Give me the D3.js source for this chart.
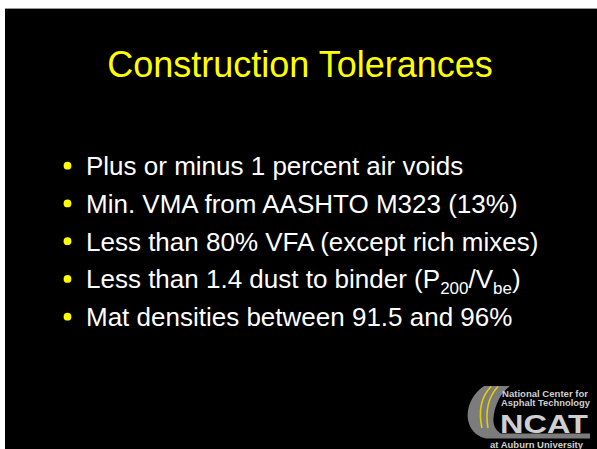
<!DOCTYPE html>
<html>
<head>
<meta charset="utf-8">
<script src="https://cdn.jsdelivr.net/npm/d3@7"></script>
<style>
  html, body { margin: 0; padding: 0; background: #ffffff; }
  svg { display: block; }
</style>
</head>
<body>
<div id="chart"></div>
<script>
// ---- content ----
const title = "Construction Tolerances";
const bulletIds = [0, 1, 2, 3, 4];
// each bullet is a list of [text, kind] segments; kind "n" normal, "s" subscript
const bullet0 = [["Plus or minus 1 percent air voids", "n"]];
const bullet1 = [["Min. VMA from AASHTO M323 (13%)", "n"]];
const bullet2 = [["Less than 80% VFA (except rich mixes)", "n"]];
const bullet3 = [["Less than 1.4 dust to binder (P", "n"], ["200", "s"], ["/V", "n"], ["be", "s"], [")", "n"]];
const bullet4 = [["Mat densities between 91.5 and 96%", "n"]];
const bullets = [bullet0, bullet1, bullet2, bullet3, bullet4];
const logoLines = ["National Center for", "Asphalt Technology", "NCAT", "at Auburn University"];

// ---- drawing ----
const W = 597, H = 449;
const svg = d3.select("#chart").append("svg").attr("width", W).attr("height", H);

svg.append("rect").attr("x", 0).attr("y", 0).attr("width", W).attr("height", H).attr("fill", "#ffffff");
svg.append("rect").attr("x", 5).attr("y", 8).attr("width", W - 5).attr("height", 1).attr("fill", "#9a9a9a");
svg.append("rect").attr("x", 5).attr("y", 9).attr("width", W - 5).attr("height", H - 9).attr("fill", "#000000");

const font = "'Liberation Sans', Arial, Helvetica, sans-serif";

svg.append("text")
  .attr("x", 300).attr("y", 77)
  .attr("text-anchor", "middle")
  .attr("font-family", font).attr("font-size", 36)
  .attr("fill", "#ffff00")
  .text(title);

const y = d3.scaleLinear().domain([0, bulletIds.length - 1]).range([175, 326]);

const g = svg.append("g");
const rows = g.selectAll("g.row").data(bulletIds).join("g").attr("class", "row");

rows.append("circle")
  .attr("cx", 67.5)
  .attr("cy", d => y(d) - 9.3)
  .attr("r", 3.9)
  .attr("fill", "#ffff00");

const texts = rows.append("text")
  .attr("x", 86)
  .attr("y", d => y(d))
  .attr("font-family", font).attr("font-size", 26)
  .attr("fill", "#ffffff");

texts.each(function(d) {
  const t = d3.select(this);
  let prev = "n";
  bullets[d].forEach(([s, kind]) => {
    const ts = t.append("tspan").text(s);
    if (kind === "s") {
      ts.attr("font-size", 17).attr("dy", prev === "s" ? 0 : 6);
    } else {
      ts.attr("font-size", 26).attr("dy", prev === "s" ? -6 : 0);
    }
    prev = kind;
  });
});

// ---- NCAT logo ----
const logo = svg.append("g");
logo.append("path")
  .attr("d", "M484,386 C472,394 466,408 468,420 C470,430 476,436 486,438.5 L590,438.5 L590,433.5 L501,433.5 C495,430 492,424 494,414 C496,402 502,392 510,386 Z")
  .attr("fill", "#7c7c7c");
logo.append("path")
  .attr("d", "M491,386.5 C482,396 478,410 482,428")
  .attr("fill", "none").attr("stroke", "#e6cf00").attr("stroke-width", 1.6);
logo.append("path")
  .attr("d", "M498,386.5 C489,396 485,410 488,428")
  .attr("fill", "none").attr("stroke", "#e6cf00").attr("stroke-width", 1.6);

const logoSpec = [
  {x: 502, y: 396.5, len: 86, fs: 8.5},
  {x: 501, y: 405.5, len: 89, fs: 8.5},
  {x: 500, y: 432.5, len: 88, fs: 26},
  {x: 490, y: 447.5, len: 93, fs: 8.5}
];
logo.selectAll("text.logo").data(logoLines).join("text")
  .attr("class", "logo")
  .attr("x", (d, i) => logoSpec[i].x)
  .attr("y", (d, i) => logoSpec[i].y)
  .attr("textLength", (d, i) => logoSpec[i].len)
  .attr("lengthAdjust", "spacingAndGlyphs")
  .attr("font-family", font).attr("font-weight", "bold")
  .attr("font-size", (d, i) => logoSpec[i].fs)
  .attr("fill", "#cfcfcf")
  .text(d => d);
</script>
</body>
</html>
